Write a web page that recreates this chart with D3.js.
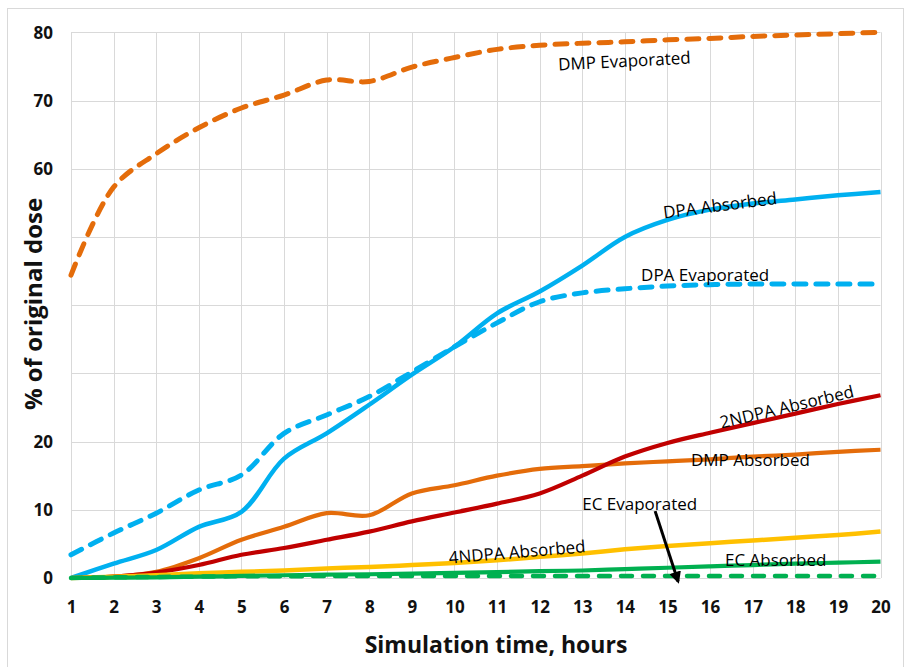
<!DOCTYPE html>
<html>
<head>
<meta charset="utf-8">
<script src="https://cdn.jsdelivr.net/npm/d3@7"></script>
<style>
  html, body { margin: 0; padding: 0; background: #fff; }
  svg { display: block; }
  text { font-family: "Open Sans", "DejaVu Sans", sans-serif; }
</style>
</head>
<body>
<svg id="chart" width="908" height="667"></svg>
<script>
// Simulation hours
const hours = d3.range(1, 21);

// Percent of original dose for each compartment, hours 1..20
const dmpEvaporated  = [44.4, 57.3, 62.2, 66.0, 68.9, 70.8, 73.0, 72.8, 74.9, 76.3, 77.5, 78.1, 78.4, 78.6, 78.9, 79.1, 79.4, 79.6, 79.8, 80.0];
const dpaAbsorbed    = [0.0, 2.1, 4.1, 7.5, 9.7, 17.5, 21.2, 25.4, 29.8, 33.9, 38.8, 42.0, 45.8, 50.0, 52.5, 54.0, 54.9, 55.5, 56.1, 56.6];
const dpaEvaporated  = [3.4, 6.6, 9.5, 12.9, 15.1, 21.2, 23.9, 26.6, 30.2, 33.9, 37.4, 40.5, 41.8, 42.4, 42.8, 43.0, 43.1, 43.1, 43.1, 43.1];
const dmpAbsorbed    = [0.0, 0.2, 0.9, 2.9, 5.6, 7.5, 9.5, 9.2, 12.4, 13.6, 15.0, 16.0, 16.4, 16.8, 17.1, 17.4, 17.8, 18.1, 18.5, 18.8];
const ndpa2Absorbed  = [0.0, 0.2, 0.8, 1.9, 3.4, 4.4, 5.6, 6.8, 8.3, 9.6, 10.9, 12.4, 15.0, 17.8, 19.8, 21.3, 22.7, 24.1, 25.5, 26.8];
const ndpa4Absorbed  = [0.0, 0.2, 0.4, 0.7, 0.9, 1.1, 1.4, 1.6, 1.9, 2.2, 2.6, 3.1, 3.6, 4.2, 4.7, 5.1, 5.5, 5.9, 6.3, 6.8];
const ecAbsorbed     = [0.0, 0.05, 0.1, 0.2, 0.3, 0.4, 0.5, 0.55, 0.65, 0.75, 0.85, 1.0, 1.1, 1.3, 1.5, 1.7, 1.9, 2.1, 2.25, 2.4];
const ecEvaporated   = [0.0, 0.1, 0.15, 0.2, 0.25, 0.25, 0.3, 0.3, 0.3, 0.3, 0.3, 0.3, 0.3, 0.3, 0.3, 0.3, 0.3, 0.3, 0.3, 0.3];

// Axis ticks
const xTickValues = d3.range(1, 21);
const yGridValues = d3.range(0, 90, 10);
const yTickLabels = [0, 10, 20, 60, 70, 80];

// Series styling
const series = [
  { name: "DMP Absorbed",    values: dmpAbsorbed,   color: "#e46c0a", width: 4.2, dash: null },
  { name: "DMP Evaporated",  values: dmpEvaporated, color: "#e46c0a", width: 5,   dash: "12,10" },
  { name: "DPA Absorbed",    values: dpaAbsorbed,   color: "#00b0f0", width: 4.5, dash: null },
  { name: "DPA Evaporated",  values: dpaEvaporated, color: "#00b0f0", width: 5,   dash: "12,10" },
  { name: "2NDPA Absorbed",  values: ndpa2Absorbed, color: "#c00000", width: 4.2, dash: null },
  { name: "4NDPA Absorbed",  values: ndpa4Absorbed, color: "#ffc000", width: 4.5, dash: null },
  { name: "EC Absorbed",     values: ecAbsorbed,    color: "#00b050", width: 4.2, dash: null },
  { name: "EC Evaporated",   values: ecEvaporated,  color: "#00b050", width: 4.5, dash: "11,11" }
];

// Series labels placed in data coordinates (hour, percent), with rotation
const labels = [
  { text: "DMP Evaporated", x: 12.44, y: 74.4, angle: -3 },
  { text: "DPA Absorbed",   x: 14.92, y: 52.7, angle: -7.3 },
  { text: "DPA Evaporated", x: 14.38, y: 43.5, angle: 0 },
  { text: "2NDPA Absorbed", x: 16.27, y: 21.9, angle: -13.4 },
  { text: "DMP Absorbed",   x: 15.55, y: 16.4, angle: 0 },
  { text: "EC Evaporated",  x: 13.0,  y: 9.9,  angle: 0 },
  { text: "4NDPA Absorbed", x: 9.88,  y: 2.1,  angle: -4.8 },
  { text: "EC Absorbed",    x: 16.35, y: 1.75, angle: 0 }
];

// Arrow pointing from the "EC Evaporated" label to its line
const arrow = { x1: 14.71, y1: 9.8, x2: 15.25, y2: -0.5 };

const svg = d3.select("#chart");

// Chart frame
svg.append("rect")
  .attr("x", 7.5).attr("y", 8.5)
  .attr("width", 896).attr("height", 680)
  .attr("fill", "#fff")
  .attr("stroke", "#d9d9d9").attr("stroke-width", 1);

const plot = { left: 71, right: 880.5, top: 32.3, bottom: 578 };

const x = d3.scaleLinear().domain([1, 20]).range([plot.left, plot.right]);
const y = d3.scaleLinear().domain([0, 80]).range([plot.bottom, plot.top]);

// Gridlines
const grid = svg.append("g").attr("stroke", "#d9d9d9").attr("stroke-width", 1);
grid.selectAll("line.v").data(xTickValues).join("line")
  .attr("class", "v")
  .attr("x1", d => Math.round(x(d)) + 0.5).attr("x2", d => Math.round(x(d)) + 0.5)
  .attr("y1", plot.top).attr("y2", plot.bottom);
grid.selectAll("line.h").data(yGridValues).join("line")
  .attr("class", "h")
  .attr("y1", d => Math.round(y(d)) + 0.5).attr("y2", d => Math.round(y(d)) + 0.5)
  .attr("x1", plot.left).attr("x2", plot.right);

// Axes (labels only, no domain or tick marks)
const xAxis = d3.axisBottom(x).tickValues(xTickValues).tickFormat(d3.format("d")).tickSize(0).tickPadding(0);
const gx = svg.append("g").attr("transform", `translate(0,${plot.bottom + 24})`).call(xAxis);
gx.select(".domain").remove();
gx.selectAll("text")
  .attr("dy", "0.35em")
  .attr("y", 5)
  .style("font-family", "'Open Sans', sans-serif")
  .style("font-size", "17px").style("font-weight", "700").attr("fill", "#111");

const yAxis = d3.axisLeft(y).tickValues(yTickLabels).tickFormat(d3.format("d")).tickSize(0).tickPadding(0);
const gy = svg.append("g").attr("transform", `translate(${plot.left - 18},0)`).call(yAxis);
gy.select(".domain").remove();
gy.selectAll("text")
  .attr("dy", "0.35em")
  .style("font-family", "'Open Sans', sans-serif")
  .style("font-size", "17px").style("font-weight", "700").attr("fill", "#111");

// Lines
const line = d3.line()
  .x((d, i) => x(hours[i]))
  .y(d => y(d))
  .curve(d3.curveCatmullRom.alpha(0.5));

svg.append("g").selectAll("path").data(series).join("path")
  .attr("d", s => line(s.values))
  .attr("fill", "none")
  .attr("stroke", s => s.color)
  .attr("stroke-width", s => s.width)
  .attr("stroke-dasharray", s => s.dash)
  .attr("stroke-linecap", s => s.dash ? "round" : "butt")
  .attr("stroke-linejoin", "round");

// Series labels
svg.append("g").selectAll("text").data(labels).join("text")
  .attr("transform", d => `translate(${x(d.x)},${y(d.y)}) rotate(${d.angle})`)
  .attr("font-size", 17)
  .attr("fill", "#000")
  .text(d => d.text);

// Arrow
const defs = svg.append("defs");
defs.append("marker")
  .attr("id", "arrowhead")
  .attr("viewBox", "0 0 10 10")
  .attr("refX", 8).attr("refY", 5)
  .attr("markerWidth", 4).attr("markerHeight", 4)
  .attr("markerUnits", "strokeWidth")
  .attr("orient", "auto")
  .append("path").attr("d", "M0,0 L10,5 L0,10 Z").attr("fill", "#000");

svg.append("line")
  .attr("x1", x(arrow.x1)).attr("y1", y(arrow.y1))
  .attr("x2", x(arrow.x2)).attr("y2", y(arrow.y2))
  .attr("stroke", "#000").attr("stroke-width", 3)
  .attr("marker-end", "url(#arrowhead)");

// Axis titles
svg.append("text")
  .attr("x", 496).attr("y", 653)
  .attr("text-anchor", "middle")
  .attr("font-size", 23).attr("font-weight", 700).attr("fill", "#111")
  .text("Simulation time, hours");

svg.append("text")
  .attr("transform", "translate(42,304) rotate(-90)")
  .attr("text-anchor", "middle")
  .attr("font-size", 24).attr("font-weight", 700).attr("fill", "#111")
  .text("% of original dose");
</script>
</body>
</html>
